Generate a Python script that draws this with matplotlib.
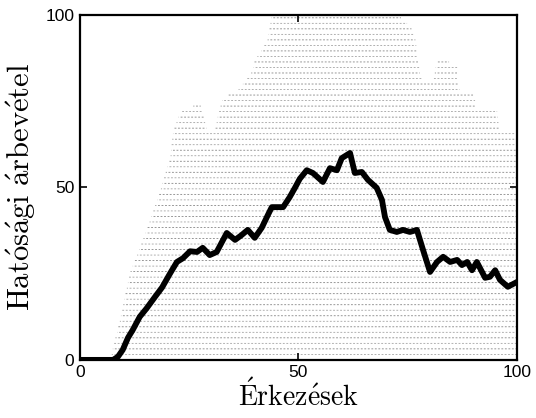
import numpy as np
import matplotlib
matplotlib.use("Agg")
import matplotlib.pyplot as plt

plt.rcParams['mathtext.fontset'] = 'cm'

# Upper envelope of the grey sample band (x, y)
env_x = [0, 7, 7.6, 9.2, 11.4, 15.3, 18.3, 19.5, 20.6, 21.3, 22.9, 24, 27.5, 28.5, 29, 31, 31.6,
         32.7, 36, 37.3, 38.5, 39.6, 40, 41.2, 43, 43.9,
         71.4, 74, 76.5, 77, 77.8, 78.5, 80.8, 81.5, 83, 86.3, 86.9, 90, 90.8, 95.4, 96, 99, 100]
env_y = [0, 0, 3.8, 11.6, 25, 37.7, 48.7, 54, 58, 66, 71.6, 72.5, 74.5, 70, 67, 67, 71,
         76, 78, 80, 82, 84, 87, 89, 93, 100,
         100, 99, 95, 91, 83, 80, 80, 86, 87.5, 85, 78, 78, 72.5, 72.5, 66.7, 66.7, 64]

# Thick black central curve
line_x = [0, 7.6, 8.7, 9.8, 11, 12.1, 13.7, 15.3, 17.2, 18.8, 20.6, 22.2, 23.6, 25.2, 26.8, 28.1,
          29.7, 31.3, 33.6, 35.5, 37, 38.4, 40, 41.6, 43, 43.9, 45.3, 46.5, 48, 49.2, 50.3, 51.9,
          53.3, 55.6, 57.2, 58.8, 59.9, 61.8, 62.9, 64.5, 65.9, 67.9, 69.1, 69.8, 70.9, 72.5, 73.9,
          75.5, 77.1, 78.5, 80.1, 81.7, 83.1, 84.7, 86.3, 87.4, 88.6, 89.7, 90.8, 92.7, 93.8, 95,
          96.1, 97.9, 100]
line_y = [0, 0, 0.9, 2.9, 6.4, 8.7, 12.5, 15, 18.3, 21, 25, 28.4, 29.5, 31.5, 31.3, 32.5,
          30.4, 31.3, 36.8, 34.8, 36.2, 37.7, 35.4, 38.3, 42, 44.3, 44.3, 44.3, 47.2, 49.9, 52.5, 55,
          54.2, 51.6, 55.6, 55, 58.5, 60, 54.2, 54.5, 52.2, 49.9, 46.4, 41.4, 37.7, 37.1, 37.7,
          37.1, 37.7, 31.9, 25.5, 28.4, 29.9, 28.4, 29, 27.5, 28.4, 26, 28.4, 23.8, 24.1, 26,
          23.2, 21.2, 22.6]

levels = np.arange(0, 100.01, 1.6)
x_ticks = [0, 50, 100]
y_ticks = [0, 50, 100]

fig = plt.figure(figsize=(5.36, 4.18), dpi=100)
ax = fig.add_axes([0.149, 0.139, 0.8156, 0.825])

xs = np.linspace(0, 100, 2001)
env = np.interp(xs, env_x, env_y)
for i, L in enumerate(levels):
    yy = np.where(env >= L, L, np.nan)
    ax.plot(xs, yy, color='#9a9a9a' if i % 2 else '#7a7a7a', lw=0.55,
            linestyle=(i % 3, (2.4, 2.2)), zorder=1)

ax.plot(line_x, line_y, color='black', lw=4.2, solid_joinstyle='round',
        solid_capstyle='round', zorder=3)

ax.set_xlim(0, 100)
ax.set_ylim(0, 100)
ax.set_xticks(x_ticks)
ax.set_yticks(y_ticks)
ax.tick_params(direction='in', top=True, right=True, length=5, width=1.2,
               labelsize=12.5, pad=4)
for lab in ax.get_xticklabels() + ax.get_yticklabels():
    lab.set_family('Liberation Sans')
for s in ax.spines.values():
    s.set_linewidth(1.6)

ax.set_xlabel(r'$\mathrm{\acute{E}rkez\acute{e}sek}$', fontsize=20, labelpad=-1)
ax.set_ylabel(r'$\mathrm{Hat\acute{o}s\acute{a}gi\ \acute{a}rbev\acute{e}tel}$', fontsize=22, labelpad=5)

fig.savefig('out.png', dpi=100)
